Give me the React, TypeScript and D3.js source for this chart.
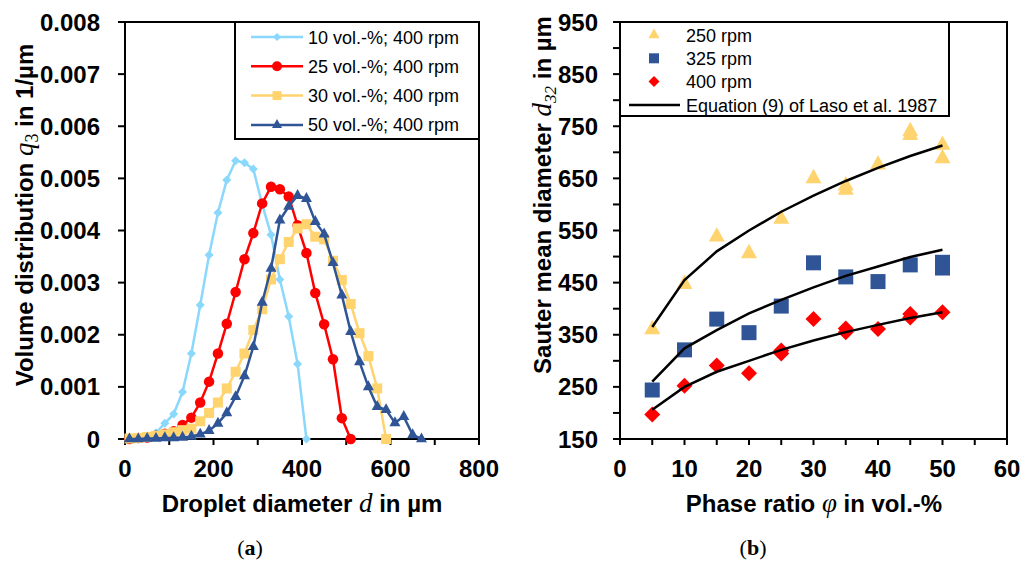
import React from 'react';
import * as d3 from 'd3';

// ---------- Data: panel (a) ----------
const diam10 = [10, 30, 50, 70, 90, 110, 130, 150, 170, 190, 210, 230, 250, 270, 290, 310, 330, 350, 370, 390, 410];
const q10 = [0, 0.00002, 0.00005, 0.00012, 0.0003, 0.00048, 0.0009, 0.00164, 0.00257, 0.00353, 0.00434, 0.00497, 0.00534, 0.0053, 0.00518, 0.0045, 0.00392, 0.00306, 0.00235, 0.00144, 0];

const diam25 = [10, 30, 50, 70, 90, 110, 130, 150, 170, 190, 210, 230, 250, 270, 290, 310, 330, 350, 370, 390, 410, 430, 450, 470, 490, 510];
const q25 = [0, 0.00002, 0.00003, 0.00006, 0.0001, 0.00015, 0.00027, 0.00041, 0.0007, 0.0011, 0.00164, 0.00221, 0.00282, 0.00345, 0.00395, 0.00452, 0.00484, 0.00479, 0.00465, 0.0041, 0.00357, 0.0028, 0.0022, 0.00153, 0.0004, 0];

const diam30 = [10, 30, 50, 70, 90, 110, 130, 150, 170, 190, 210, 230, 250, 270, 290, 310, 330, 350, 370, 390, 410, 430, 450, 470, 490, 510, 530, 550, 570, 590];
const q30 = [0.00001, 0.00002, 0.00004, 0.00006, 0.00009, 0.00013, 0.00017, 0.0002, 0.00034, 0.0005, 0.0007, 0.00097, 0.00129, 0.00164, 0.00209, 0.00249, 0.00306, 0.00345, 0.00378, 0.00404, 0.00412, 0.00388, 0.00383, 0.00342, 0.00305, 0.00259, 0.00203, 0.00159, 0.00097, 0];

const diam50 = [10, 30, 50, 70, 90, 110, 130, 150, 170, 190, 210, 230, 250, 270, 290, 310, 330, 350, 370, 390, 410, 430, 450, 470, 490, 510, 530, 550, 570, 590, 610, 630, 650, 670];
const q50 = [0, 0, 0.00001, 0.00001, 0.00002, 0.00002, 0.00003, 0.00005, 0.00009, 0.00016, 0.0003, 0.0005, 0.00081, 0.00121, 0.00177, 0.00262, 0.00327, 0.0042, 0.00446, 0.00467, 0.00461, 0.00417, 0.00393, 0.00338, 0.00276, 0.00206, 0.00148, 0.001, 0.00062, 0.00056, 0.00031, 0.00043, 0.00008, 0];

const seriesNamesA = ['10 vol.-%; 400 rpm', '25 vol.-%; 400 rpm', '30 vol.-%; 400 rpm', '50 vol.-%; 400 rpm'];
const xTicksA = [0, 100, 200, 300, 400, 500, 600, 700, 800];
const xLabelsA = [0, 200, 400, 600, 800];
const yTicksA = [0, 0.001, 0.002, 0.003, 0.004, 0.005, 0.006, 0.007, 0.008];

// ---------- Data: panel (b) ----------
const phase250 = [5, 10, 15, 20, 25, 30, 35, 35, 40, 45, 45, 50, 50];
const d250 = [360, 447, 538, 506, 572, 650, 636, 628, 676, 740, 733, 714, 688];
const phase325 = [5, 10, 15, 20, 25, 30, 35, 40, 45, 50, 50];
const d325 = [244, 321, 380, 354, 405, 488, 461, 452, 484, 489, 478];
const phase400 = [5, 10, 15, 20, 25, 25, 30, 35, 35, 40, 45, 45, 50];
const d400 = [197, 252, 291, 276, 314, 320, 380, 355, 362, 361, 383, 390, 393];

const eqPhase = [5, 10, 15, 20, 25, 30, 35, 40, 45, 50];
const eq250 = [365, 455, 510, 550, 586, 617, 645, 670, 693, 713];
const eq325 = [260, 324, 359, 391, 417, 441, 463, 481, 499, 513];
const eq400 = [206, 250, 279, 300, 321, 339, 355, 369, 382, 393];

const seriesNamesB = ['250 rpm', '325 rpm', '400 rpm', 'Equation (9) of Laso et al. 1987'];
const xTicksB = [0, 5, 10, 15, 20, 25, 30, 35, 40, 45, 50, 55, 60];
const xLabelsB = [0, 10, 20, 30, 40, 50, 60];
const yTicksB = [150, 200, 250, 300, 350, 400, 450, 500, 550, 600, 650, 700, 750, 800, 850, 900, 950];
const yLabelsB = [150, 250, 350, 450, 550, 650, 750, 850, 950];

// ---------- Styling ----------
const SANS = "'Liberation Sans', Arial, Helvetica, sans-serif";
const MATH = "'Liberation Serif', 'DejaVu Serif', serif";
const LIGHTBLUE = '#8ad8fb';
const RED = '#ff0000';
const GOLD = '#ffd36e';
const NAVY = '#2f5597';

type MarkerKind = 'diamond' | 'circle' | 'square' | 'triangle';

function Marker({ kind, x, y, s, color }: { kind: MarkerKind; x: number; y: number; s: number; color: string }) {
  if (kind === 'circle') return <circle cx={x} cy={y} r={s / 2} fill={color} />;
  if (kind === 'square') return <rect x={x - s / 2} y={y - s / 2} width={s} height={s} fill={color} />;
  if (kind === 'diamond') {
    const r = s / 2;
    return <path d={`M${x},${y - r}L${x + r},${y}L${x},${y + r}L${x - r},${y}Z`} fill={color} />;
  }
  const h = s * 0.9;
  return <path d={`M${x},${y - (2 * h) / 3}L${x + s / 2},${y + h / 3}L${x - s / 2},${y + h / 3}Z`} fill={color} />;
}

export default function App() {
  // panel (a) scales
  const xA = d3.scaleLinear().domain([0, 800]).range([125, 479]);
  const yA = d3.scaleLinear().domain([0, 0.008]).range([439, 22]);
  // panel (b) scales
  const xB = d3.scaleLinear().domain([0, 60]).range([620, 1007]);
  const yB = d3.scaleLinear().domain([150, 950]).range([439, 22]);

  const seriesA = [
    { name: seriesNamesA[0], d: diam10, q: q10, color: LIGHTBLUE, kind: 'diamond' as MarkerKind, s: 9, ls: 8 },
    { name: seriesNamesA[1], d: diam25, q: q25, color: RED, kind: 'circle' as MarkerKind, s: 10.5, ls: 10 },
    { name: seriesNamesA[2], d: diam30, q: q30, color: GOLD, kind: 'square' as MarkerKind, s: 10, ls: 9 },
    { name: seriesNamesA[3], d: diam50, q: q50, color: NAVY, kind: 'triangle' as MarkerKind, s: 11, ls: 10 },
  ];

  const lineA = d3.line<[number, number]>().x((p) => xA(p[0])).y((p) => yA(p[1]));
  const lineB = d3.line<[number, number]>().x((p) => xB(p[0])).y((p) => yB(p[1]));

  const scatterB = [
    { name: seriesNamesB[0], x: phase250, y: d250, color: GOLD, kind: 'triangle' as MarkerKind, s: 16, ls: 11 },
    { name: seriesNamesB[1], x: phase325, y: d325, color: NAVY, kind: 'square' as MarkerKind, s: 15, ls: 10 },
    { name: seriesNamesB[2], x: phase400, y: d400, color: RED, kind: 'diamond' as MarkerKind, s: 16, ls: 11 },
  ];
  const curvesB = [eq250, eq325, eq400];

  const tickFont = { fontFamily: SANS, fontWeight: 700, fontSize: 24, fill: '#000' } as const;

  return (
    <svg width={1036} height={565} style={{ position: 'absolute', left: 0, top: 0, background: '#fff' }}>
      <rect x={0} y={0} width={1036} height={565} fill="#fff" />

      {/* ================= Panel (a) ================= */}
      <g>
        {/* frame */}
        <rect x={125} y={22} width={354} height={417} fill="none" stroke="#000" strokeWidth={2} />
        {/* y ticks */}
        {yTicksA.map((t) => (
          <g key={'ya' + t}>
            <line x1={118} x2={125} y1={yA(t)} y2={yA(t)} stroke="#000" strokeWidth={2} />
            <text x={100} y={yA(t) + 8.5} textAnchor="end" {...tickFont}>
              {t === 0 ? '0' : t.toFixed(3)}
            </text>
          </g>
        ))}
        {/* x ticks */}
        {xTicksA.map((t) => (
          <line key={'xa' + t} x1={xA(t)} x2={xA(t)} y1={439} y2={445} stroke="#000" strokeWidth={2} />
        ))}
        {xLabelsA.map((t) => (
          <text key={'xla' + t} x={xA(t)} y={477} textAnchor="middle" {...tickFont}>
            {t}
          </text>
        ))}

        {/* series */}
        {seriesA.map((s) => {
          const pts = s.d.map((v, i) => [v, s.q[i]] as [number, number]);
          return (
            <g key={s.name}>
              <path d={lineA(pts) || ''} fill="none" stroke={s.color} strokeWidth={2.5} />
              {pts.map((p, i) => (
                <Marker key={i} kind={s.kind} x={xA(p[0])} y={yA(p[1])} s={s.s} color={s.color} />
              ))}
            </g>
          );
        })}

        {/* legend */}
        <rect x={235} y={22} width={244} height={117} fill="#fff" stroke="#000" strokeWidth={2} />
        {seriesA.map((s, i) => {
          const cy = 37 + i * 29.3;
          return (
            <g key={'lga' + i}>
              <line x1={251} x2={303} y1={cy} y2={cy} stroke={s.color} strokeWidth={2.5} />
              <Marker kind={s.kind} x={277} y={cy} s={s.ls} color={s.color} />
              <text x={308} y={cy + 6.5} fontFamily={SANS} fontSize={18} fill="#000">
                {s.name}
              </text>
            </g>
          );
        })}

        {/* axis titles */}
        <text x={302} y={512} textAnchor="middle" fontFamily={SANS} fontWeight={700} fontSize={24}>
          Droplet diameter{' '}
          <tspan fontFamily={MATH} fontStyle="italic" fontWeight={400} fontSize={27}>d</tspan>
          {'  in µm'}
        </text>
        <text transform="translate(33,215) rotate(-90)" textAnchor="middle" fontFamily={SANS} fontWeight={700} fontSize={24}>
          Volume distribution{' '}
          <tspan fontFamily={MATH} fontStyle="italic" fontWeight={400} fontSize={27}>q</tspan>
          <tspan fontFamily={MATH} fontWeight={400} fontSize={18} dy={5}>3</tspan>
          <tspan dy={-5}>{'  in 1/µm'}</tspan>
        </text>
        <text x={250} y={555} textAnchor="middle" fontFamily={MATH} fontSize={22}>
          (<tspan fontWeight={700}>a</tspan>)
        </text>
      </g>

      {/* ================= Panel (b) ================= */}
      <g>
        <rect x={620} y={22} width={387} height={417} fill="none" stroke="#000" strokeWidth={2} />
        {yTicksB.map((t) => (
          <line key={'yb' + t} x1={613} x2={620} y1={yB(t)} y2={yB(t)} stroke="#000" strokeWidth={2} />
        ))}
        {yLabelsB.map((t) => (
          <text key={'ylb' + t} x={598} y={yB(t) + 8.5} textAnchor="end" {...tickFont}>
            {t}
          </text>
        ))}
        {xTicksB.map((t) => (
          <line key={'xb' + t} x1={xB(t)} x2={xB(t)} y1={439} y2={445} stroke="#000" strokeWidth={2} />
        ))}
        {xLabelsB.map((t) => (
          <text key={'xlb' + t} x={xB(t)} y={477} textAnchor="middle" {...tickFont}>
            {t}
          </text>
        ))}

        {scatterB.map((s) => (
          <g key={s.name}>
            {s.x.map((v, i) => (
              <Marker key={i} kind={s.kind} x={xB(v)} y={yB(s.y[i])} s={s.s} color={s.color} />
            ))}
          </g>
        ))}
        {curvesB.map((c, k) => (
          <path
            key={'eq' + k}
            d={lineB(eqPhase.map((p, i) => [p, c[i]] as [number, number])) || ''}
            fill="none"
            stroke="#000"
            strokeWidth={2.5}
          />
        ))}

        {/* legend */}
        <rect x={620} y={22} width={329} height={94} fill="#fff" stroke="#000" strokeWidth={2} />
        {scatterB.map((s, i) => {
          const cy = 35 + i * 23.3;
          return (
            <g key={'lgb' + i}>
              <Marker kind={s.kind} x={654} y={cy} s={s.ls} color={s.color} />
              <text x={686} y={cy + 6.5} fontFamily={SANS} fontSize={18} fill="#000">
                {s.name}
              </text>
            </g>
          );
        })}
        <line x1={629} x2={680} y1={105} y2={105} stroke="#000" strokeWidth={2.5} />
        <text x={686} y={111.5} fontFamily={SANS} fontSize={18} fill="#000">
          {seriesNamesB[3]}
        </text>

        {/* axis titles */}
        <text x={814} y={512} textAnchor="middle" fontFamily={SANS} fontWeight={700} fontSize={24}>
          Phase ratio{' '}
          <tspan fontFamily={MATH} fontStyle="italic" fontWeight={400} fontSize={27}>φ</tspan>
          {'  in vol.-%'}
        </text>
        <text transform="translate(551,195) rotate(-90)" textAnchor="middle" fontFamily={SANS} fontWeight={700} fontSize={24}>
          Sauter mean diameter{' '}
          <tspan fontFamily={MATH} fontStyle="italic" fontWeight={400} fontSize={27}>d</tspan>
          <tspan fontFamily={MATH} fontStyle="italic" fontWeight={400} fontSize={17} dy={5}>32</tspan>
          <tspan dy={-5}>{'  in µm'}</tspan>
        </text>
        <text x={753} y={555} textAnchor="middle" fontFamily={MATH} fontSize={22}>
          (<tspan fontWeight={700}>b</tspan>)
        </text>
      </g>
    </svg>
  );
}
